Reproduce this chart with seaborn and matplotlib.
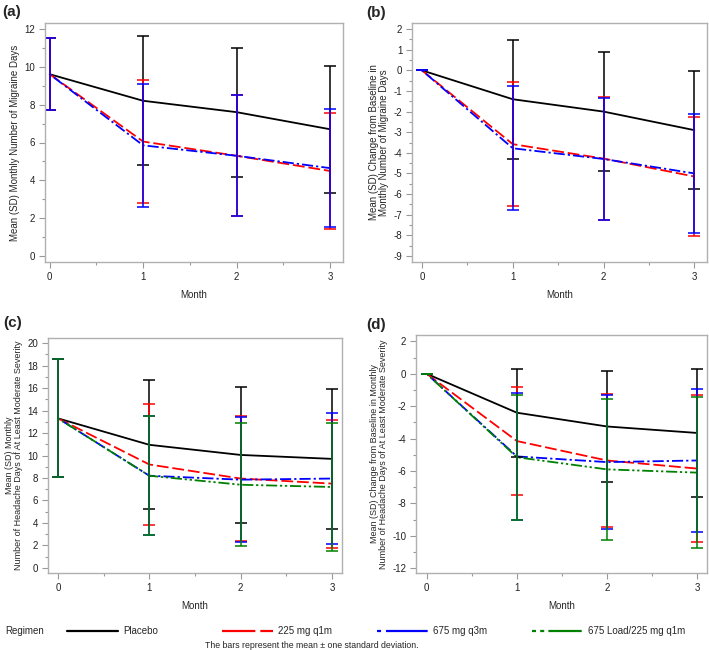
import numpy as np
import pandas as pd
import matplotlib
matplotlib.use("Agg")
import matplotlib.pyplot as plt
from matplotlib.lines import Line2D
from matplotlib.ticker import MultipleLocator
import seaborn as sns

# ---- data ----
months = [0, 1, 2, 3]
regimens = ["Placebo", "225 mg q1m", "675 mg q3m", "675 Load/225 mg q1m"]

# (a) monthly migraine days
a_mean = {"Placebo": [9.6, 8.2, 7.6, 6.7],
          "225 mg q1m": [9.6, 6.05, 5.3, 4.5],
          "675 mg q3m": [9.6, 5.85, 5.3, 4.65]}
a_sd = {"Placebo": [1.9, 3.4, 3.4, 3.35],
        "225 mg q1m": [1.9, 3.25, 3.2, 3.08],
        "675 mg q3m": [1.9, 3.25, 3.18, 3.1]}

# (b) change from baseline, migraine days
b_mean = {"Placebo": [0, -1.4, -2.0, -2.9],
          "225 mg q1m": [0, -3.58, -4.28, -5.15],
          "675 mg q3m": [0, -3.78, -4.3, -5.0]}
b_sd = {"Placebo": [0, 2.88, 2.87, 2.85],
        "225 mg q1m": [0, 3.0, 2.97, 2.9],
        "675 mg q3m": [0, 3.02, 2.95, 2.9]}

# (c) headache days of at least moderate severity
c_mean = {"Placebo": [13.3, 10.95, 10.05, 9.7],
          "225 mg q1m": [13.3, 9.2, 7.95, 7.5],
          "675 mg q3m": [13.3, 8.2, 7.85, 7.95],
          "675 Load/225 mg q1m": [13.3, 8.2, 7.4, 7.2]}
c_sd = {"Placebo": [5.25, 5.75, 6.05, 6.2],
        "225 mg q1m": [5.25, 5.4, 5.57, 5.7],
        "675 mg q3m": [5.25, 5.3, 5.55, 5.85],
        "675 Load/225 mg q1m": [5.25, 5.27, 5.47, 5.65]}

# (d) change from baseline, headache days
d_mean = {"Placebo": [0, -2.4, -3.25, -3.65],
          "225 mg q1m": [0, -4.15, -5.35, -5.85],
          "675 mg q3m": [0, -5.1, -5.45, -5.35],
          "675 Load/225 mg q1m": [0, -5.15, -5.9, -6.1]}
d_sd = {"Placebo": [0, 2.72, 3.45, 3.95],
        "225 mg q1m": [0, 3.35, 4.1, 4.52],
        "675 mg q3m": [0, 3.9, 4.15, 4.4],
        "675 Load/225 mg q1m": [0, 3.87, 4.37, 4.65]}

colors = {"Placebo": "black", "225 mg q1m": "#ff0000",
          "675 mg q3m": "#0000ff", "675 Load/225 mg q1m": "#008000"}
dashes = {"Placebo": "", "225 mg q1m": (8.5, 2.8),
          "675 mg q3m": (1.6, 2.2, 8, 2.2),
          "675 Load/225 mg q1m": (1.6, 2, 1.6, 2, 8, 2)}
# legend swatches use a longer pattern, as in the reference key
legend_dashes = {"Placebo": None, "225 mg q1m": (24, 3.6),
                 "675 mg q3m": (2.9, 3.6, 30, 3.6),
                 "675 Load/225 mg q1m": (2.9, 3, 2.9, 3, 24, 3)}

sns.set_style("ticks")
plt.rcParams["font.family"] = ["Liberation Sans", "DejaVu Sans"]
plt.rcParams["axes.unicode_minus"] = False
plt.rcParams["lines.scale_dashes"] = False

fig = plt.figure(figsize=(7.09, 6.5), dpi=100)

panels = [
    ("(a)", a_mean, a_sd, [45, 23, 343, 262], (-0.3, 12.3), 2, 1,
     "Mean (SD) Monthly Number of Migraine Days", (-0.05, 3.14), 7, (2, 12)),
    ("(b)", b_mean, b_sd, [412, 23, 707, 262], (-9.3, 2.3), 1, 0.5,
     "Mean (SD) Change from Baseline in\nMonthly Number of Migraine Days", (-0.11, 3.14), 7, (366, 13)),
    ("(c)", c_mean, c_sd, [48, 338, 342, 573], (-0.45, 20.45), 2, 1,
     "Mean (SD) Monthly\nNumber of Headache Days of At Least Moderate Severity", (-0.11, 3.11), 6.5, (3, 323)),
    ("(d)", d_mean, d_sd, [416, 335, 707, 573], (-12.3, 2.4), 2, 1,
     "Mean (SD) Change from Baseline in Monthly\nNumber of Headache Days of At Least Moderate Severity", (-0.12, 3.11), 6.5, (366, 325)),
]

W, H = 709, 650
for tag, means, sds, box, ylim, major, minor, ylabel, xlim, yfs, tagpos in panels:
    x0, y0, x1, y1 = box
    ax = fig.add_axes([x0 / W, 1 - y1 / H, (x1 - x0) / W, (y1 - y0) / H])
    rows = []
    for r in means:
        for m, v, s in zip(months, means[r], sds[r]):
            rows.append({"Month": m, "Mean": v, "SD": s, "Regimen": r})
    df = pd.DataFrame(rows)
    groups = [r for r in regimens if r in means]
    sns.lineplot(data=df, x="Month", y="Mean", hue="Regimen", style="Regimen",
                 hue_order=groups, style_order=groups,
                 palette=colors, dashes=dashes, linewidth=1.3,
                 legend=False, ax=ax)
    for r in groups:
        sub = df[df["Regimen"] == r]
        ax.errorbar(sub["Month"], sub["Mean"], yerr=sub["SD"], fmt="none",
                    ecolor=colors[r], elinewidth=1.1, capsize=4, capthick=1.1)
    ax.set_xlim(*xlim)
    ax.set_ylim(*ylim)
    ax.set_xticks(months)
    ax.xaxis.set_minor_locator(MultipleLocator(0.5))
    ax.yaxis.set_major_locator(MultipleLocator(major))
    ax.yaxis.set_minor_locator(MultipleLocator(minor))
    ax.tick_params(which="both", direction="out", color="#999999",
                   labelsize=7, labelcolor="#222222", width=0.8)
    ax.tick_params(which="major", length=4, pad=3)
    ax.tick_params(which="minor", length=2.5)
    for sp in ax.spines.values():
        sp.set_visible(True)
        sp.set_color("#b0b0b0")
        sp.set_linewidth(1)
    ax.set_xlabel("Month", fontsize=7, labelpad=6)
    ax.set_ylabel(ylabel, fontsize=yfs, labelpad=3, linespacing=1.0)
    fig.text(tagpos[0] / W, 1 - tagpos[1] / H, tag, fontsize=11,
             fontweight="bold", va="center", ha="left")

# ---- legend: four equally spaced keys ----
ly = 1 - 631 / H
fig.text(5 / W, ly, "Regimen", fontsize=7, va="center")
for i, r in enumerate(regimens):
    h = Line2D([], [], color=colors[r], linewidth=1.6)
    if legend_dashes[r] is not None:
        h.set_dashes(legend_dashes[r])
    fig.legend([h], [r], loc="center left",
               bbox_to_anchor=((67 + 155 * i) / W, ly), frameon=False,
               fontsize=7, handlelength=5.2, handletextpad=0.6,
               borderpad=0.0, borderaxespad=0.0)
fig.text(312 / W, 1 - 645 / H, "The bars represent the mean \u00b1 one standard deviation.",
         fontsize=6.3, ha="center", va="center")

fig.savefig("out.png", dpi=100)
